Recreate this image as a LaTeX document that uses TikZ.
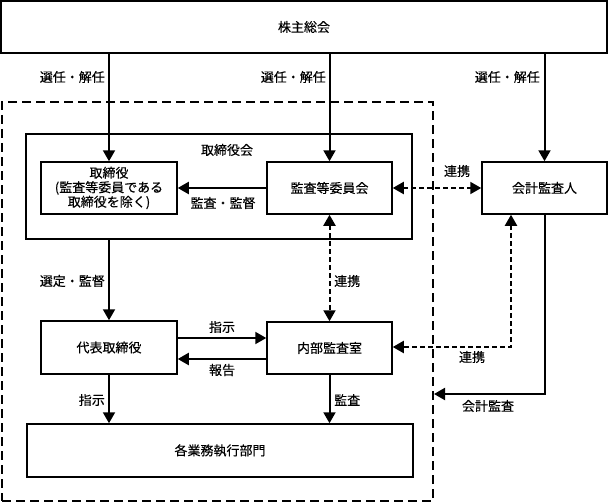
\documentclass[tikz,border=0pt]{standalone}
\usepackage{fontspec}
\setmainfont{Noto Sans CJK JP}[FakeBold=0.3]
\usetikzlibrary{arrows.meta,calc}
\begin{document}
\begin{tikzpicture}[x=1pt,y=-1pt,
  every node/.style={font=\fontsize{13pt}{15pt}\selectfont},
  box/.style={draw, line width=1.5pt, inner sep=0pt, align=center},
  lbl/.style={inner sep=0pt},
  conn/.style={line width=2pt, -{Triangle[width=12pt,length=11pt]}},
  dconn/.style={line width=2pt, dash pattern=on 5pt off 3pt},
  tip/.style={-{Triangle[width=12pt,length=11pt]}},
  bitip/.style={{Triangle[width=12pt,length=11pt]}-{Triangle[width=12pt,length=11pt]}}
]
\useasboundingbox (0,0) rectangle (608,503);

\node[box, minimum width=431pt, minimum height=399pt, dash pattern=on 9pt off 5pt, line width=2pt] (outer) at (217.5,301.5) {};
\node[box, minimum width=606pt, minimum height=52pt] (top) at (304,27) {株主総会};
\node[box, minimum width=386pt, minimum height=105pt] (board) at (219,186.5) {};
\node[lbl] (boardlbl) at (227,150) {取締役会};
\node[box, minimum width=136pt, minimum height=52pt, font=\fontsize{13pt}{14.5pt}\selectfont] (tori) at (109,188) {取締役\\(監査等委員である\\取締役を除く)};
\node[box, minimum width=125pt, minimum height=52pt] (kansa) at (329.5,188) {監査等委員会};
\node[box, minimum width=125pt, minimum height=52pt] (kaikei) at (544.5,188) {会計監査人};
\node[box, minimum width=136pt, minimum height=53pt] (daihyo) at (109,347.5) {代表取締役};
\node[box, minimum width=125pt, minimum height=52pt] (naibu) at (329.5,348) {内部監査室};
\node[box, minimum width=386pt, minimum height=53pt] (kakugyo) at (220,450.5) {各業務執行部門};

% top-level selection
\draw[conn] (top.south -| tori.north) -- (tori.north);
\draw[conn] (top.south -| kansa.north) -- (kansa.north);
\draw[conn] (top.south -| kaikei.north) -- (kaikei.north);
\node[lbl, anchor=east] (l1) at (105,77) {選任・解任};
\node[lbl, anchor=east] (l2) at (326,77) {選任・解任};
\node[lbl, anchor=east] (l3) at (540,77) {選任・解任};

% audit committee -> directors
\draw[conn] (kansa.west) -- (tori.east);
\node[lbl] (l4) at (223,203) {監査・監督};

% audit committee <-> accounting auditor
\draw[dconn, bitip] (kansa.east) -- (kaikei.west);
\node[lbl] (l5) at (457,171) {連携};

% board -> representative director
\draw[conn] (board.south -| daihyo.north) -- (daihyo.north);
\node[lbl, anchor=east] (l6) at (105,281) {選定・監督};

% representative <-> internal audit
\draw[conn] (daihyo.east |- 0,338) -- (naibu.west |- 0,338);
\node[lbl] (l7) at (222,327) {指示};
\draw[conn] (naibu.west |- 0,359) -- (daihyo.east |- 0,359);
\node[lbl] (l8) at (222,370) {報告};

% audit committee <-> internal audit
\draw[dconn, bitip] (kansa.south) -- (naibu.north);
\node[lbl, anchor=west] (l9) at (334,281) {連携};

% accounting auditor <-> internal audit
\coordinate (dk) at (511,347);
\draw[dconn, bitip] (kaikei.south -| dk) -- (dk) -- (naibu.east |- dk);
\node[lbl] (l10) at (472,357) {連携};

% accounting audit
\coordinate (ka) at (544.5,394);
\draw[line width=2pt, tip] (kaikei.south) -- (ka) -- (ka -| outer.east);
\node[lbl] (l11) at (488,406) {会計監査};

% instructions and audits to departments
\draw[conn] (daihyo.south) -- (daihyo.south |- kakugyo.north);
\node[lbl, anchor=east] (l12) at (105,400) {指示};
\draw[conn] (naibu.south) -- (naibu.south |- kakugyo.north);
\node[lbl, anchor=west] (l13) at (334,400) {監査};
\end{tikzpicture}
\end{document}
